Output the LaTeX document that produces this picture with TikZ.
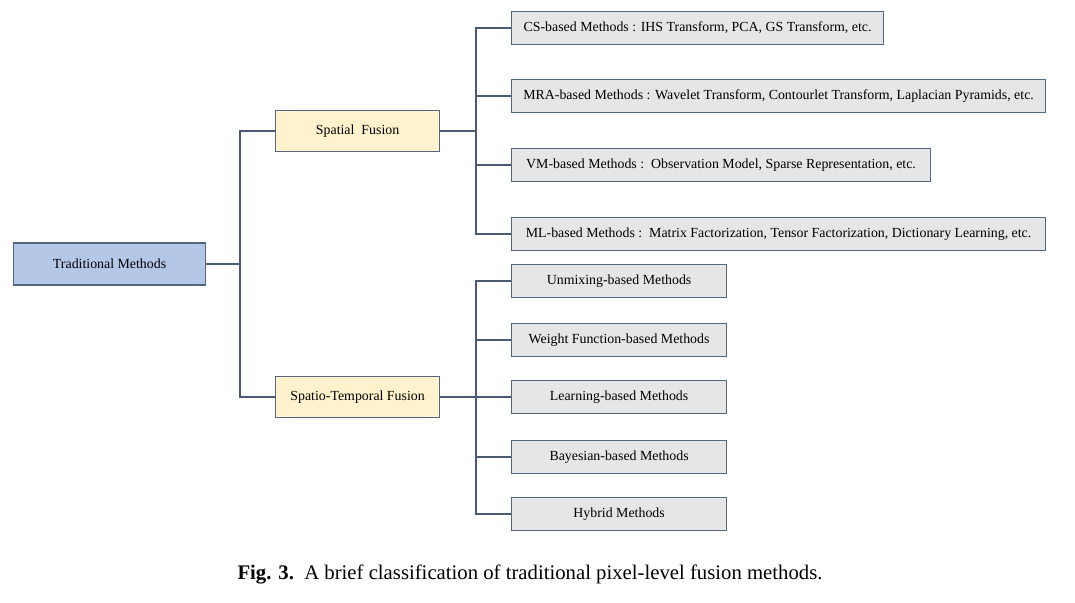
\documentclass[tikz,border=0pt]{standalone}
\usepackage{fontspec}
\setmainfont{Liberation Serif}
\usepackage{tikz}
\usetikzlibrary{positioning}

\definecolor{rootblue}{HTML}{B4C7E7}
\definecolor{midyellow}{HTML}{FFF2CC}
\definecolor{leafgray}{HTML}{E7E6E6}
\definecolor{edgegray}{HTML}{56667E}
\definecolor{linegray}{HTML}{4A5A72}

\begin{document}
\begin{tikzpicture}[
	x=0.02cm, y=-0.02cm,
	box/.style={
		draw=edgegray,
		line width=0.7pt,
		rectangle,
		anchor=west,
		inner sep=2pt,
		font=\fontsize{7.9}{9}\selectfont
	},
	root/.style={box, fill=rootblue, minimum width=3.84cm, minimum height=0.84cm},
	cat/.style={box, fill=midyellow, minimum width=3.28cm, minimum height=0.83cm},
	leaf/.style={box, fill=leafgray, minimum height=0.66cm},
	link/.style={draw=linegray, line width=0.65pt}
	]
	\useasboundingbox (0,0) rectangle (1075,602);

	\node[root] (tm) at (13,264) {Traditional Methods};

	\node[cat] (sf) at (275,131) {Spatial\ \ Fusion};
	\node[cat] (stf) at (275,397) {Spatio-Temporal Fusion};

	% spatial fusion branch
	\node[leaf, minimum width=7.44cm] (cs) at (511,28)
	{CS-based Methods : IHS Transform, PCA, GS Transform, etc.};
	\node[leaf, minimum width=10.68cm] (mra) at (511,96)
	{MRA-based Methods : Wavelet Transform, Contourlet Transform, Laplacian Pyramids, etc.};
	\node[leaf, minimum width=8.38cm] (vm) at (511,165)
	{VM-based Methods :\ \ Observation Model, Sparse Representation, etc.};
	\node[leaf, minimum width=10.68cm] (ml) at (511,234)
	{ML-based Methods :\ \ Matrix Factorization, Tensor Factorization, Dictionary Learning, etc.};

	% spatio-temporal branch
	\node[leaf, minimum width=4.3cm] (unmix) at (511,281) {Unmixing-based Methods};
	\node[leaf, minimum width=4.3cm] (weight) at (511,340) {Weight Function-based Methods};
	\node[leaf, minimum width=4.3cm] (learn) at (511,397) {Learning-based Methods};
	\node[leaf, minimum width=4.3cm] (bayes) at (511,457) {Bayesian-based Methods};
	\node[leaf, minimum width=4.3cm] (hybrid) at (511,514) {Hybrid Methods};

	\coordinate (j0) at (240,264);
	\coordinate (j1) at (476,131);
	\coordinate (j2) at (476,397);

	\draw[link] (tm.east) -- (j0);
	\draw[link] (j0) |- (sf.west);
	\draw[link] (j0) |- (stf.west);

	\draw[link] (sf.east) -- (j1);
	\foreach \n in {cs,mra,vm,ml}
		\draw[link] (j1) |- (\n.west);

	\draw[link] (stf.east) -- (j2);
	\foreach \n in {unmix,weight,learn,bayes,hybrid}
		\draw[link] (j2) |- (\n.west);

	\node[font=\fontsize{11.8}{13}\selectfont] (caption) at (530,574)
	{\textbf{Fig. 3.}\ \ A brief classification of traditional pixel-level fusion methods.};
\end{tikzpicture}
\end{document}
